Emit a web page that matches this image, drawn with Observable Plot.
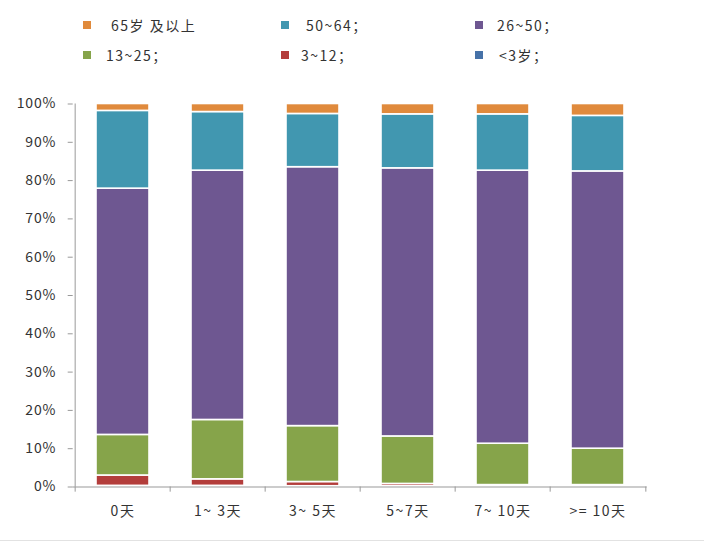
<!DOCTYPE html>
<html>
<head>
<meta charset="utf-8">
<script src="https://cdn.jsdelivr.net/npm/d3@7"></script>
<script src="https://cdn.jsdelivr.net/npm/@observablehq/plot@0.6"></script>
<style>
  html, body { margin: 0; padding: 0; background: #fff; }
  #wrap { position: relative; width: 704px; height: 543px; font-family: "Noto Sans CJK SC", "DejaVu Sans", sans-serif; color: #333; overflow: hidden; }
  #legend { position: absolute; left: 0; top: 0; width: 704px; height: 80px; }
  .item { position: absolute; font-size: 14px; line-height: 18px; white-space: pre; letter-spacing: 1.5px; }
  .sw { position: absolute; width: 8px; height: 8px; }
  #chart { position: absolute; left: 0; top: 80px; }
  #chart svg g[aria-label="x-axis tick label"] text { letter-spacing: 1.5px; }
  #chart svg g[aria-label="y-axis tick label"] text { letter-spacing: 0.8px; }
  #bline { position: absolute; left: 0; top: 540px; width: 704px; height: 1px; background: #e2e2e2; }
</style>
</head>
<body>
<div id="wrap">
  <div id="legend"></div>
  <div id="chart"></div>
  <div id="bline"></div>
</div>
<script>
// Categories (length of stay)
const categories = ["0天", "1~ 3天", "3~ 5天", "5~7天", "7~ 10天", ">= 10天"];
// Age groups, bottom to top of stack
const series = ["<3岁；", "3~12；", "13~25；", "26~50；", "50~64；", "65岁 及以上"];
const colors = ["#4672A8", "#B33D3B", "#86A44A", "#6E5791", "#4197B0", "#E08A3C"];
// Percent values per age group, one per category
const vUnder3   = [0.3, 0.3, 0.2, 0.2, 0.2, 0.2];
const v3to12    = [2.7, 1.7, 1.1, 0.6, 0.3, 0.3];
const v13to25   = [10.6, 15.5, 14.6, 12.4, 10.8, 9.5];
const v26to50   = [64.3, 65.1, 67.6, 70.0, 71.3, 72.4];
const v50to64   = [20.3, 15.3, 13.9, 14.1, 14.7, 14.5];
const v65plus   = [1.8, 2.1, 2.6, 2.7, 2.7, 3.1];
const yTicks = [0, 10, 20, 30, 40, 50, 60, 70, 80, 90, 100];

const valueSets = [vUnder3, v3to12, v13to25, v26to50, v50to64, v65plus];
const data = [];
series.forEach((s, si) => {
  categories.forEach((c, ci) => {
    data.push({cat: c, age: s, order: si, value: valueSets[si][ci]});
  });
});

// Legend (HTML, above the SVG)
const legendOrder = [
  {s: "65岁 及以上", col: 0, row: 0, tx: 111},
  {s: "50~64；", col: 1, row: 0, tx: 306},
  {s: "26~50；", col: 2, row: 0, tx: 497},
  {s: "13~25；", col: 0, row: 1, tx: 106},
  {s: "3~12；", col: 1, row: 1, tx: 301},
  {s: "<3岁；", col: 2, row: 1, tx: 499}
];
const swX = [83, 281, 475];
const rowY = [25, 55];
const legend = document.getElementById("legend");
legendOrder.forEach(d => {
  const sw = document.createElement("div");
  sw.className = "sw";
  sw.style.left = swX[d.col] + "px";
  sw.style.top = (rowY[d.row] - 4) + "px";
  sw.style.background = colors[series.indexOf(d.s)];
  legend.appendChild(sw);
  const t = document.createElement("div");
  t.className = "item";
  t.style.left = d.tx + "px";
  t.style.top = (rowY[d.row] - 9) + "px";
  t.textContent = d.s;
  legend.appendChild(t);
});

const W = 704, H = 463;
const mL = 72.7, mR = 57.3, mT = 23.5, mB = 56.5;
const step = (W - mL - mR) / categories.length;

const plot = Plot.plot({
  width: W,
  height: H,
  marginLeft: mL,
  marginRight: mR,
  marginTop: mT,
  marginBottom: mB,
  style: {fontFamily: "'Noto Sans CJK SC', 'DejaVu Sans', sans-serif", fontSize: "14px", color: "#333", background: "#fff"},
  x: {domain: categories, paddingInner: 0.446, paddingOuter: 0.223, label: null},
  y: {domain: [0, 100], label: null},
  color: {domain: series, range: colors},
  marks: [
    Plot.barY(data, Plot.stackY({
      x: "cat", y: "value", z: "age", fill: "age", order: "order",
      stroke: "#fff", strokeWidth: 1.6
    })),
    Plot.ruleY([0], {stroke: "#999", strokeWidth: 1}),
    Plot.ruleX(categories, {x: d => d, y1: 0, y2: -1.35, dx: -step / 2, stroke: "#999"}),
    Plot.ruleX([categories[categories.length - 1]], {x: d => d, y1: 0, y2: -1.35, dx: step / 2, stroke: "#999"}),
    Plot.ruleX([categories[0]], {x: d => d, y1: 0, y2: 100, dx: -step / 2, stroke: "#999"}),
    Plot.axisY({ticks: yTicks, tickFormat: d => d + "%", tickSize: 5, tickPadding: 12, stroke: "#999", label: null}),
    Plot.axisX({tickSize: 0, tickPadding: 19, label: null})
  ]
});
document.getElementById("chart").appendChild(plot);
</script>
</body>
</html>
